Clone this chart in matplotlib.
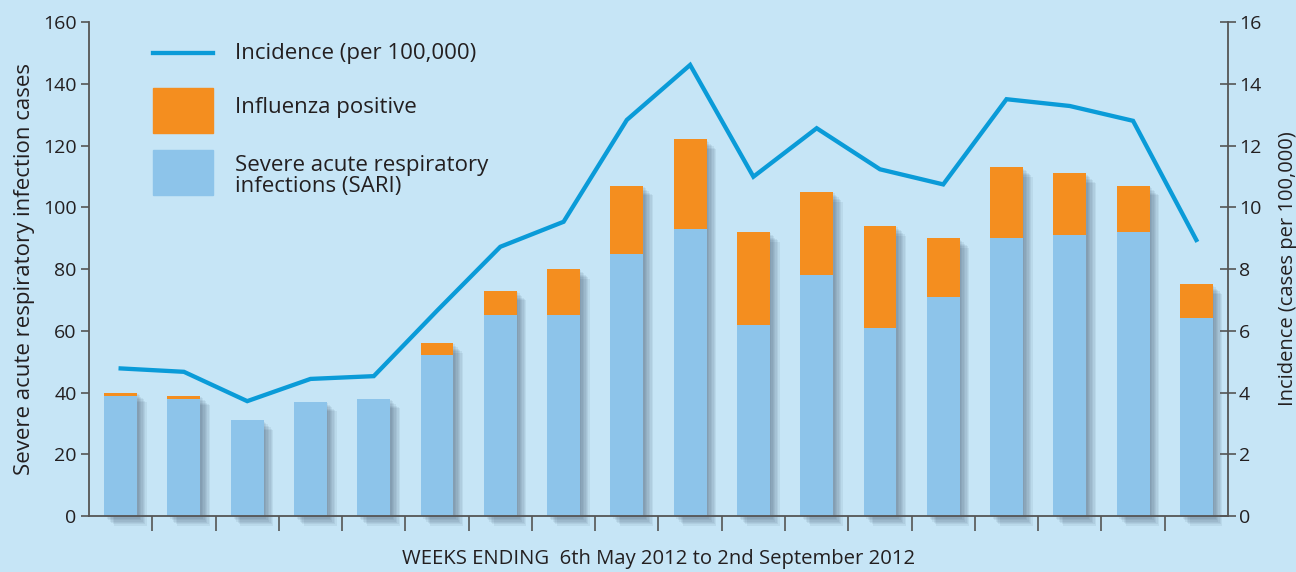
import matplotlib.pyplot as plt
import matplotlib.patheffects as pe
from matplotlib.lines import Line2D
from matplotlib.patches import Rectangle
import numpy as np

plt.rcParams['font.family'] = ['Open Sans', 'DejaVu Sans']

weeks = np.arange(18)
sari = [39, 38, 31, 37, 38, 52, 65, 65, 85, 93, 62, 78, 61, 71, 90, 91, 92, 64]
flu = [1, 1, 0, 0, 0, 4, 8, 15, 22, 29, 30, 27, 33, 19, 23, 20, 15, 11]
incidence = [4.78, 4.67, 3.72, 4.44, 4.53, 6.65, 8.72, 9.53, 12.83, 14.61,
             10.99, 12.56, 11.23, 10.74, 13.5, 13.28, 12.8, 8.94]

bg = '#c6e5f6'
c_sari = '#8dc4ea'
c_flu = '#f48e1f'
c_line = '#0a9bd8'
c_text = '#231f20'
c_axis = '#555555'

fig = plt.figure(figsize=(12.96, 5.72), dpi=100, facecolor=bg)
ax = fig.add_axes([0.0687, 0.0979, 0.8788, 0.8636], facecolor=bg)
ax2 = ax.twinx()

total = np.array(sari) + np.array(flu)
w = 0.52

# soft drop shadow behind each bar
shadow = [pe.SimplePatchShadow(offset=(d, -d), shadow_rgbFace='#2a3d55', alpha=0.07)
          for d in (1, 2, 3, 4, 5, 6, 7)]
ax.bar(weeks, total, w, color=c_sari, zorder=1, clip_on=False,
       path_effects=shadow + [pe.Normal()])
ax.bar(weeks, sari, w, color=c_sari, zorder=2, clip_on=False)
ax.bar(weeks, flu, w, bottom=sari, color=c_flu, zorder=2)

ax2.plot(weeks, incidence, color=c_line, lw=3.1, solid_joinstyle='miter')

ax.set_xlim(-0.5, 17.5)
ax.set_ylim(0, 160)
ax2.set_ylim(0, 16)
ax.set_yticks(range(0, 161, 20))
ax2.set_yticks(range(0, 17, 2))
ax.set_xticks(weeks[:-1] + 0.5)
ax.set_xticklabels([])

for a in (ax, ax2):
    a.spines['top'].set_visible(False)
    for s in a.spines.values():
        s.set_color(c_axis)
        s.set_linewidth(1.3)
ax.spines['right'].set_visible(False)
ax2.spines['left'].set_visible(False)
ax2.spines['bottom'].set_visible(False)

ax.tick_params(axis='y', direction='out', length=6, width=1.2, color=c_axis,
               labelsize=14, labelcolor=c_text, pad=3)
ax.tick_params(axis='x', direction='out', length=11, width=1.2, color=c_axis)
ax2.tick_params(axis='y', direction='inout', length=12, width=1.2, color=c_axis,
                labelsize=14, labelcolor=c_text, pad=2)

ax.set_ylabel('Severe acute respiratory infection cases', fontsize=16,
              color=c_text, labelpad=6)
ax2.set_ylabel('Incidence (cases per 100,000)', fontsize=14.5, color=c_text,
               labelpad=12)
ax.set_xlabel('WEEKS ENDING  6th May 2012 to 2nd September 2012', fontsize=14.6,
              color=c_text, labelpad=9)

ax2.set_zorder(ax.get_zorder() + 1)
ax2.patch.set_visible(False)

# legend drawn by hand to match the original layout
W, H = 1296, 572
def fx(px):
    return px / W
def fy(py):
    return 1 - py / H

fig.add_artist(Line2D([fx(153), fx(213)], [fy(53), fy(53)], color=c_line, lw=3.1,
                      transform=fig.transFigure))
fig.add_artist(Rectangle((fx(153), fy(133)), fx(60), 45 / H, color=c_flu,
                         transform=fig.transFigure))
fig.add_artist(Rectangle((fx(153), fy(195)), fx(60), 45 / H, color=c_sari,
                         transform=fig.transFigure))
fig.text(fx(235), fy(54), 'Incidence (per 100,000)', fontsize=16, color=c_text,
         va='center')
fig.text(fx(235), fy(108), 'Influenza positive', fontsize=16, color=c_text,
         va='center')
fig.text(fx(235), fy(176), 'Severe acute respiratory\ninfections (SARI)',
         fontsize=16, color=c_text, va='center', linespacing=1.05)

fig.savefig('out.png', dpi=100, facecolor=bg)
